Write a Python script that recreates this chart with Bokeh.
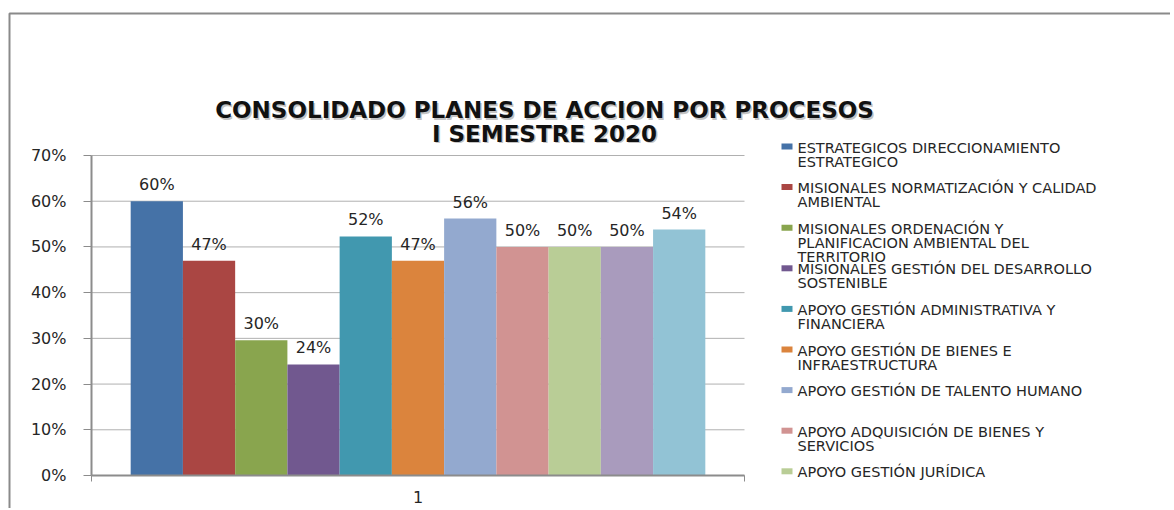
from bokeh.plotting import figure
from bokeh.models import (Range1d, FixedTicker, NumeralTickFormatter, Label,
                          BoxAnnotation, ColumnDataSource, LinearAxis)
from bokeh.embed import file_html
from bokeh.resources import INLINE
from bokeh.core.properties import value

# ---------------- data ----------------
title_lines = ["CONSOLIDADO PLANES DE ACCION POR PROCESOS", "I SEMESTRE 2020"]
category_ticks = [1]
values = [0.60, 0.47, 0.296, 0.243, 0.523, 0.47, 0.562, 0.50, 0.50, 0.50, 0.538]
colors = ["#4572A7", "#AA4643", "#89A54E", "#71588F", "#4198AF", "#DB843D",
          "#93A9CF", "#D19392", "#B9CD96", "#A99BBD", "#92C3D5"]
legend_labels = [
    "ESTRATEGICOS DIRECCIONAMIENTO\nESTRATEGICO",
    "MISIONALES NORMATIZACIÓN Y CALIDAD\nAMBIENTAL",
    "MISIONALES ORDENACIÓN Y\nPLANIFICACION AMBIENTAL DEL\nTERRITORIO",
    "MISIONALES GESTIÓN DEL DESARROLLO\nSOSTENIBLE",
    "APOYO GESTIÓN ADMINISTRATIVA Y\nFINANCIERA",
    "APOYO GESTIÓN DE BIENES E\nINFRAESTRUCTURA",
    "APOYO GESTIÓN DE TALENTO HUMANO",
    "APOYO ADQUISICIÓN DE BIENES Y\nSERVICIOS",
    "APOYO GESTIÓN JURÍDICA",
]
y_ticks = [0.0, 0.1, 0.2, 0.3, 0.4, 0.5, 0.6, 0.7]

# ---------------- layout (pixels on the page) ----------------
W, H = 1170, 508
AX_L, AX_R = 91, 744      # plot area left/right px
AX_T, AX_B = 155, 475     # plot area top (70%) / bottom (0%) px
X0, X1 = 0.5, 1.5
Y0, Y1 = 0.0, 0.7
FONT = "DejaVu Sans"
TXT = "#262626"
AXC = "#8c8c8c"

kx = (AX_R - AX_L) / (X1 - X0)
ky = (AX_B - AX_T) / (Y1 - Y0)
def dx(px):
    return X0 + (px - AX_L) / kx
def dy(py):
    return Y0 + (AX_B - py) / ky

n = len(values)
gap = 1.5
bw = 1.0 / (n + gap)
xs = [category_ticks[0] + (i - (n - 1) / 2) * bw for i in range(n)]
labels = [f"{v:.0%}" for v in values]
src = ColumnDataSource(dict(x=xs, top=values, color=colors, label=labels))

p = figure(width=W, height=H, output_backend="svg", toolbar_location=None,
           x_range=Range1d(dx(0), dx(W)), y_range=Range1d(dy(H), dy(0)),
           x_axis_location=None, y_axis_location=None, min_border=0)
p.outline_line_color = None
p.background_fill_color = "white"
p.border_fill_color = "white"
p.xgrid.visible = False
p.ygrid.visible = False

# horizontal gridlines across the plot area
p.segment(x0=[X0] * len(y_ticks), x1=[X1] * len(y_ticks), y0=y_ticks, y1=y_ticks,
          line_color="#b0b0b0", line_width=1)

p.vbar(x="x", top="top", width=bw, color="color", line_color=None, source=src)
p.text(x="x", y="top", text="label", source=src, text_align="center",
       text_baseline="bottom", y_offset=-7, text_font=value(FONT),
       text_font_size="16px", text_color=TXT)

# axes drawn at fixed data locations
yax = LinearAxis(fixed_location=X0, bounds=(Y0, Y1),
                 ticker=FixedTicker(ticks=y_ticks),
                 formatter=NumeralTickFormatter(format="0%"))
yax.major_tick_out = 8
yax.major_tick_in = 0
yax.minor_tick_out = 0
yax.minor_tick_in = 0
yax.major_label_standoff = 17
yax.axis_line_color = AXC
yax.axis_line_width = 2
yax.major_tick_line_color = AXC
yax.major_label_text_font = FONT
yax.major_label_text_font_size = "16px"
yax.major_label_text_color = TXT
p.add_layout(yax, "left")

xax = LinearAxis(fixed_location=Y0, bounds=(X0, X1),
                 ticker=FixedTicker(ticks=category_ticks, minor_ticks=[X0, X1]))
xax.major_tick_out = 0
xax.major_tick_in = 0
xax.minor_tick_out = 6
xax.minor_tick_in = 0
xax.minor_tick_line_color = AXC
xax.major_label_standoff = 9
xax.axis_line_color = AXC
xax.axis_line_width = 2
xax.major_label_text_font = FONT
xax.major_label_text_font_size = "16px"
xax.major_label_text_color = TXT
p.add_layout(xax, "below")

# outer chart border (top & left visible)
p.add_layout(BoxAnnotation(left=dx(9), right=dx(1400), top=dy(13), bottom=dy(800),
                           fill_alpha=0, line_color="#8a8a8a", line_alpha=1, line_width=2))

# title (with a soft shadow like the original)
for i, t in enumerate(title_lines):
    base = 109.5 + i * 23.5
    p.add_layout(Label(x=dx(544), y=dy(base), text=t, x_offset=1.5, y_offset=-1.5,
                       text_align="center", text_baseline="alphabetic",
                       text_font=FONT, text_font_style="bold", text_font_size="23px",
                       text_color="#9a9a9a", text_alpha=0.6))
    p.add_layout(Label(x=dx(544), y=dy(base), text=t,
                       text_align="center", text_baseline="alphabetic",
                       text_font=FONT, text_font_style="bold", text_font_size="23px",
                       text_color="#111111"))

# legend
step = 40.6
for i, lab in enumerate(legend_labels):
    top = 142.5 + i * step
    p.add_layout(BoxAnnotation(left=dx(781), right=dx(792), top=dy(top + 0.5), bottom=dy(top + 6.5),
                               fill_color=colors[i], fill_alpha=1, line_color=None))
    p.add_layout(Label(x=dx(797), y=dy(top - 3.5), text=lab,
                       text_align="left", text_baseline="top",
                       text_font=FONT, text_font_size="14.5px", text_line_height=0.88,
                       text_color=TXT))

open("out.html", "w").write(file_html(p, INLINE))
